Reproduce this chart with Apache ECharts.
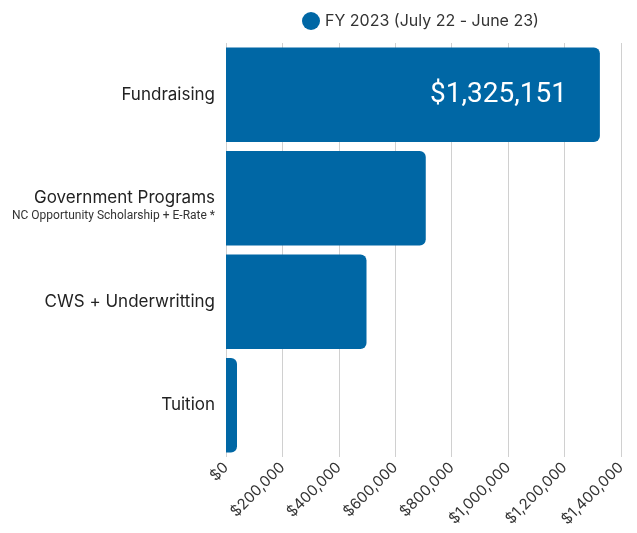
<!DOCTYPE html>
<html><head><meta charset="utf-8">
<script src="https://cdn.jsdelivr.net/npm/echarts@6/dist/echarts.min.js"></script>
<style>html,body{margin:0;padding:0;background:#fff}#c{width:637px;height:533px}</style>
</head><body><div id="c"></div>
<script>
const categories = ['Fundraising', 'Government Programs', 'CWS + Underwritting', 'Tuition'];
const subtitles = ['', 'NC Opportunity Scholarship + E-Rate *', '', ''];
const values = [1325151, 708000, 498000, 39000];
const seriesName = 'FY 2023 (July 22 - June 23)';
const ticks = [0, 200000, 400000, 600000, 800000, 1000000, 1200000, 1400000];

const chart = echarts.init(document.getElementById('c'));
const fmt = v => '$' + v.toLocaleString('en-US');
const font = 'Inter, "Noto Sans", sans-serif';
chart.setOption({
  animation: false,
  legend: {
    data: [seriesName], top: 7, left: 297, icon: 'circle', itemWidth: 18, itemHeight: 18, itemGap: 7,
    textStyle: { fontFamily: font, fontSize: 16, color: '#333' }
  },
  grid: { left: 226, right: 16, top: 43, bottom: 76, containLabel: false },
  xAxis: {
    type: 'value', min: ticks[0], max: ticks[ticks.length - 1], interval: 200000,
    axisLine: { show: false }, axisTick: { show: false },
    splitLine: { show: true, lineStyle: { color: '#d0d0d0', width: 1 } },
    axisLabel: { rotate: 45, margin: 8, fontFamily: font, fontSize: 15, color: '#333', formatter: fmt }
  },
  yAxis: {
    type: 'category', inverse: true, data: categories,
    axisLine: { show: false }, axisTick: { show: false },
    axisLabel: {
      margin: 11, fontFamily: font, fontSize: 17, color: '#222',
      formatter: (v, i) => subtitles[i] ? '{e| }\n{a|' + v + '}\n{b|' + subtitles[i] + '}' : v,
      rich: {
        e: { fontSize: 10, lineHeight: 16 },
        a: { fontFamily: font, fontSize: 17, color: '#222', lineHeight: 20, align: 'right' },
        b: { fontFamily: 'Roboto, sans-serif', fontSize: 12, color: '#333', lineHeight: 16, align: 'right' }
      }
    }
  },
  series: [{
    name: seriesName, type: 'bar', barCategoryGap: '8.5%',
    itemStyle: { color: '#0067a5', borderRadius: [0, 6, 6, 0] },
    data: values.map((v, i) => i === 0 ? {
      value: v,
      label: { show: true, position: 'insideRight', offset: [-28, 0], color: '#fff',
        fontFamily: 'Roboto, sans-serif', fontSize: 28, formatter: p => fmt(p.value) }
    } : v)
  }]
});
</script></body></html>
